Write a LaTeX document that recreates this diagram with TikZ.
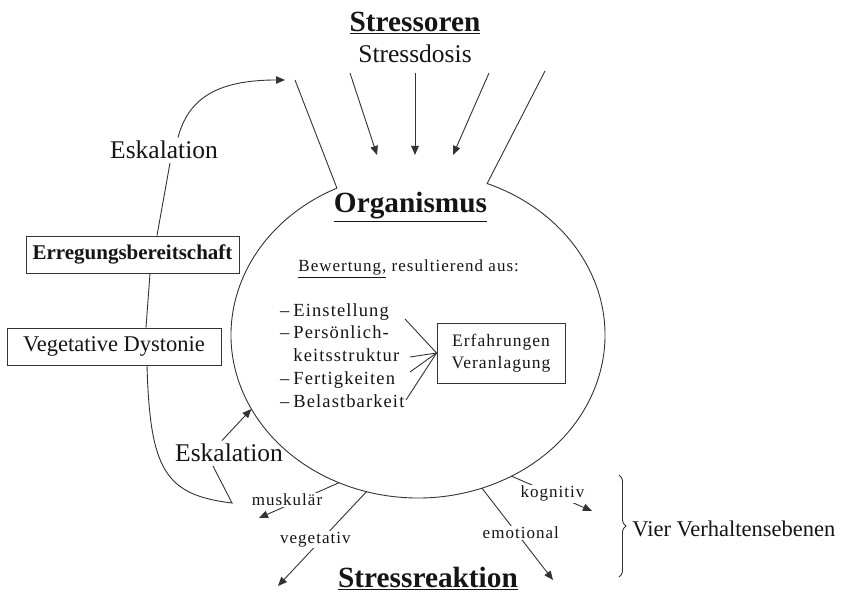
\documentclass[tikz,border=0pt]{standalone}
\usepackage{fontspec}
\setmainfont{Liberation Serif}
\newfontfamily\spc{Liberation Serif}[LetterSpace=6]
\usepackage{tikz}
\usetikzlibrary{arrows.meta,calc,decorations.pathreplacing}
\definecolor{stLine}{HTML}{333333}
\definecolor{stText}{HTML}{151515}

\tikzset{
  arr/.style={-{Triangle[length=9pt,width=7.5pt]}},
  kasten/.style={draw=stLine,line width=0.9pt},
  ebene/.style={fill=white,inner sep=1pt,font=\spc\fontsize{17}{19}\selectfont},
  titel/.style={font=\bfseries\fontsize{29.3}{32}\selectfont,anchor=base},
}

\begin{document}
\begin{tikzpicture}[x=1pt,y=1pt,line width=0.9pt,color=stLine,text=stText]
  \useasboundingbox (0,0) rectangle (843,594);
  % Stressoren oben
  \node[titel] (stressoren) at (415,562) {\underline{Stressoren}};
  \node[font=\fontsize{25.5}{28}\selectfont,anchor=base] (dosis) at (415,531) {Stressdosis};
  \coordinate (s1) at (350,521); \coordinate (t1) at (377,439);
  \coordinate (s2) at (415,521); \coordinate (t2) at (415,439);
  \coordinate (s3) at (489,521); \coordinate (t3) at (453,439);
  \foreach \a/\b in {s1/t1,s2/t2,s3/t3} {\draw[arr] (\a) -- (\b);}
  % Trichter und Organismus
  \coordinate (org) at (418,259);
  \coordinate (ftl) at (295,514);
  \coordinate (ftr) at (545,523);
  \draw (ftl) -- ($(org)+(115.7:187 and 163)$)
    arc[start angle=115.7,end angle=428.3,x radius=187,y radius=163] -- (ftr);
  \node[titel] (orgname) at (410.5,381) {\underline{Organismus}};
  \node[font=\spc\fontsize{17}{19}\selectfont,anchor=base west,inner sep=0pt] (bewertung) at (298,322) {\underline{Bewertung,} resultierend aus:};
  % Bewertungsfaktoren
  \foreach \yy/\t [count=\i] in {277/{\llap{\textendash\hspace{4pt}}Einstellung},255/{\llap{\textendash\hspace{4pt}}Pers\"onlich-},232/keitsstruktur,209/{\llap{\textendash\hspace{4pt}}Fertigkeiten},186/{\llap{\textendash\hspace{4pt}}Belastbarkeit}}
    {\node[font=\spc\fontsize{18.5}{21}\selectfont,anchor=base west,inner sep=0pt] (item\i) at (293,\yy) {\t};}
  \node[kasten,minimum width=128,minimum height=60,align=center,font=\spc\fontsize{17.5}{22}\selectfont] (erf) at (501,241) {Erfahrungen\\Veranlagung};
  \coordinate (e1) at (405,275);
  \coordinate (e2) at (410,237);
  \coordinate (e3) at (410,222);
  \coordinate (e4) at (406,194);
  \foreach \e in {e1,e2,e3,e4} {\draw (\e) -- (erf.west);}
  % Eskalation links
  \node[kasten,minimum width=213,minimum height=37,font=\bfseries\fontsize{21}{24}\selectfont] (erreg) at (132.5,339.5) {Erregungsbereitschaft};
  \node[kasten,minimum width=214,minimum height=37,font=\fontsize{22.5}{26}\selectfont] (vegdys) at (114,247.5) {Vegetative Dystonie};
  \node[font=\fontsize{25.5}{28}\selectfont,anchor=base] (esk1) at (164,435) {Eskalation};
  \node[font=\fontsize{25.5}{28}\selectfont,anchor=base] (esk2) at (229,132) {Eskalation};
  \coordinate (etip) at (285,514);
  \coordinate (vp) at (232,91);
  \draw ([xshift=24.5]erreg.north) -- ([xshift=6]esk1.south);
  \draw[arr] ([xshift=14]esk1.north) .. controls (188,494) and (215,514) .. (etip);
  \draw ([xshift=17.5]erreg.south) -- ([xshift=32]vegdys.north);
  \draw ([xshift=33]vegdys.south) .. controls (150,124) and (165,99) .. (vp) -- ([xshift=-16]esk2.south);
  \draw[arr] ([xshift=-7]esk2.north) -- ($(org)+(207:187 and 163)$);
  % Verhaltensebenen
  \coordinate (mt) at (259,76);
  \coordinate (vt) at (278,8);
  \coordinate (et) at (553,14);
  \coordinate (kt) at (592,83);
  \draw[arr] ($(org)+(245:187 and 163)$) -- node[ebene,pos=0.65,yshift=6] (musk) {muskul\"ar} (mt);
  \draw[arr] ($(org)+(254:187 and 163)$) -- node[ebene,pos=0.51,xshift=-6] (veget) {vegetativ} (vt);
  \draw[arr] ($(org)+(290:187 and 163)$) -- node[ebene,pos=0.49,xshift=4] (emot) {emotional} (et);
  \draw[arr] ($(org)+(300:187 and 163)$) -- node[ebene,pos=0.51] (kogn) {kognitiv} (kt);
  \node[titel] (reaktion) at (428,6) {\underline{Stressreaktion}};
  \coordinate (bt) at (619,119);
  \coordinate (bb) at (619,17);
  \draw[decorate,decoration={brace,amplitude=7}] (bt) -- (bb);
  \node[font=\fontsize{22.5}{26}\selectfont,anchor=base west,inner sep=0pt] (ebenen) at (632,57) {Vier Verhaltensebenen};
\end{tikzpicture}
\end{document}
